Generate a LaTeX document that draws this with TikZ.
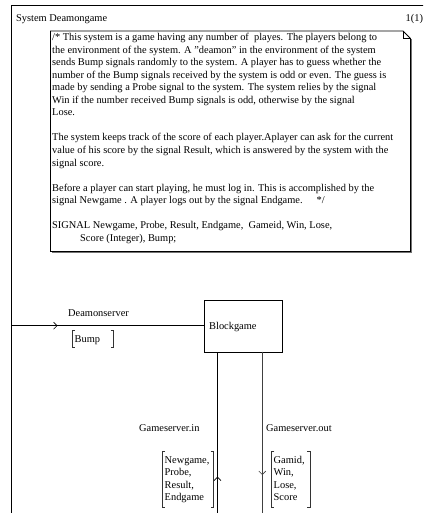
\documentclass[tikz,border=0pt]{standalone}
\usepackage{fontspec}
\setmainfont{Liberation Serif}
\usetikzlibrary{decorations.markings,arrows.meta,calc}

\begin{document}
\begin{tikzpicture}[x=1pt,y=-1pt,
  txt/.style={inner sep=0pt, anchor=base west, font=\fontsize{10.4}{12.5}\selectfont},
  ln/.style={line width=0.8pt, draw=black},
  brk/.style={line width=0.7pt, draw=black!80},
  chev/.style={postaction={decorate}, decoration={markings,
      mark=at position #1 with {\arrow{Straight Barb[length=3.5pt,width=7pt,line width=0.6pt]}}}}]

\useasboundingbox (0,0) rectangle (423,513);
\clip (0,0) rectangle (423,513);
\fill[white] (0,0) rectangle (423,513);

% system frame
\coordinate (frTL) at (11.5,5.5);
\coordinate (frBL) at (11.5,513);
\coordinate (frTR) at (424,5.5);
\draw[ln] (frBL) -- (frTL) -- (frTR);
\node[txt] (title) at (16,21.5) {System Deamongame};
\node[txt] (page) at (405.5,21.5) {1(1)};

% comment symbol with folded corner and shadow
\draw[line width=0.9pt, draw=black!55] (411.8,39.5) -- (411.8,252.8) -- (51.5,252.8);
\draw[ln, fill=white] (50.5,31) -- (403,31) -- (410.5,38.5) -- (410.5,251.5) -- (50.5,251.5) -- cycle;
\draw[line width=0.6pt] (403,31) -- (403,38.5) -- (410.5,38.5);

\foreach \n/\yy/\xx/\t in {
  c1/41/52/{/* This system is a game having any number of\ \ playes. The players belong to},
  c2/53.5/52/{the environment of the system. A "deamon" in the environment of the system},
  c3/66/52/{sends Bump signals randomly to the system. A player has to guess whether the},
  c4/78.5/52/{number of the Bump signals received by the system is odd or even. The guess is},
  c5/91/52/{made by sending a Probe signal to the system. The system relies by the signal},
  c6/103.5/52/{Win if the number received Bump signals is odd, otherwise by the signal},
  c7/116/52/{Lose.},
  c8/141/52/{The system keeps track of the score of each player.Aplayer can ask for the current},
  c9/153.5/52/{value of his score by the signal Result, which is answered by the system with the},
  c10/166/52/{signal score.},
  c11/191/52/{Before a player can start playing, he must log in. This is accomplished by the},
  c12/203.5/52/{signal Newgame . A player logs out by the signal Endgame.\hspace{14pt}*/},
  c13/228.5/52/{SIGNAL Newgame, Probe, Result, Endgame,\ \ Gameid, Win, Lose,},
  c14/241/80/{Score (Integer), Bump;}}
  \node[txt] (\n) at (\xx,\yy) {\t};

% block
\node[draw, line width=0.8pt, minimum width=77.5pt, minimum height=51.5pt, inner sep=0pt,
      anchor=north west] (blk) at (204,300) {};
\node[txt] (blkname) at (209,329.3) {Blockgame};

% Deamonserver channel
\coordinate (dsStart) at (11.5,325.7);
\draw[ln, chev=46pt] (dsStart) -- (dsStart -| blk.west);
\node[txt] (dsname) at (68,316.5) {Deamonserver};
\node[txt] (bump) at (74.5,342.3) {Bump};
\draw[brk] (75,330) -- (72.3,330) -- (72.3,347) -- (75,347);
\draw[brk] (110.5,330) -- (113.2,330) -- (113.2,347) -- (110.5,347);

% Gameserver channels
\coordinate (ginTop) at (217.5,351.5);
\coordinate (ginEnd) at (217.5,513);
\coordinate (goutTop) at (262.3,351.5);
\coordinate (goutEnd) at (262.3,513);
\draw[ln, chev=36.3pt] (ginEnd) -- (ginTop);
\draw[ln, draw=black!75, chev=123.5pt] (goutTop) -- (goutEnd);

\node[txt] (ginname) at (139,431) {Gameserver.in};
\node[txt] (goutname) at (266,431) {Gameserver.out};

\foreach \n/\yy/\t in {gi1/463.3/{Newgame,}, gi2/475.8/{Probe,}, gi3/488.3/{Result,}, gi4/500.8/{Endgame}}
  \node[txt] (\n) at (164.5,\yy) {\t};
\draw[brk] (165,451) -- (162.3,451) -- (162.3,507.7) -- (165,507.7);
\draw[brk] (210.6,451) -- (213.3,451) -- (213.3,507.7) -- (210.6,507.7);

\foreach \n/\yy/\t in {go1/463.3/{Gamid,}, go2/475.8/{Win,}, go3/488.3/{Lose,}, go4/500.8/{Score}}
  \node[txt] (\n) at (273.5,\yy) {\t};
\draw[brk] (274.4,451) -- (271.7,451) -- (271.7,507.7) -- (274.4,507.7);
\draw[brk] (307.3,451) -- (310,451) -- (310,507.7) -- (307.3,507.7);

\end{tikzpicture}
\end{document}
